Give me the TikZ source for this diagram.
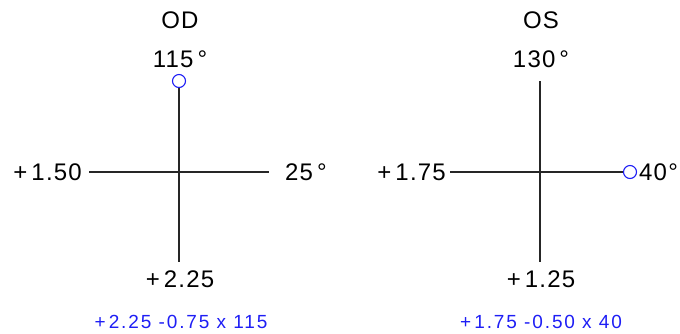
\documentclass[tikz,border=0pt]{standalone}
\usepackage{fontspec}
\setmainfont{Liberation Sans}
\newfontfamily\lblfont[LetterSpace=5]{Liberation Sans}
\newfontfamily\formfont[LetterSpace=10]{Liberation Sans}
\definecolor{axblue}{RGB}{30,30,245}
\tikzset{
  lbl/.style={inner sep=0pt, anchor=base, font=\lblfont\fontsize{24}{27}\selectfont},
  formula/.style={inner sep=0pt, anchor=base, text=axblue, font=\formfont\fontsize{19}{22}\selectfont},
  axisline/.style={line width=1.5pt, draw=black!85},
  marker/.style={circle, draw=axblue, line width=1.1pt, minimum size=13pt, inner sep=0pt}
}
\begin{document}
\begin{tikzpicture}[x=1pt,y=-1pt]
\useasboundingbox (0,0) rectangle (680,333);
% ---- OD ----
\node[lbl] (odt) at (180,28) {OD};
\node[lbl] (odtop) at (180,67) {115\,°};
\node[marker] (odm) at (179,81) {};
\coordinate (odb) at (179,262);
\coordinate (odl) at (89,172);
\coordinate (odr) at (269,172);
\draw[axisline] (odm.south) -- (odb);
\draw[axisline] (odl) -- (odr);
\node[lbl, anchor=base east] (odleft) at (82,180) {+\,1.50};
\node[lbl, anchor=base west] (odright) at (285,180) {25\,°};
\node[lbl] (odbot) at (180,287) {+\,2.25};
\node[formula] (odf) at (181,328) {+\,2.25 -0.75 x 115};
% ---- OS ----
\node[lbl] (ost) at (541,28) {OS};
\node[lbl] (ostop) at (541,67) {130\,°};
\coordinate (ost1) at (540,81);
\coordinate (osb) at (540,262);
\coordinate (osl) at (450,172);
\node[marker] (osm) at (630,172) {};
\draw[axisline] (ost1) -- (osb);
\draw[axisline] (osl) -- (osm.west);
\node[lbl, anchor=base east] (osleft) at (446,180) {+\,1.75};
\node[lbl, anchor=base west] (osright) at (639,180) {40°};
\node[lbl] (osbot) at (541,287) {+\,1.25};
\node[formula] (osf) at (541,328) {+\,1.75 -0.50 x 40};
\end{tikzpicture}
\end{document}
